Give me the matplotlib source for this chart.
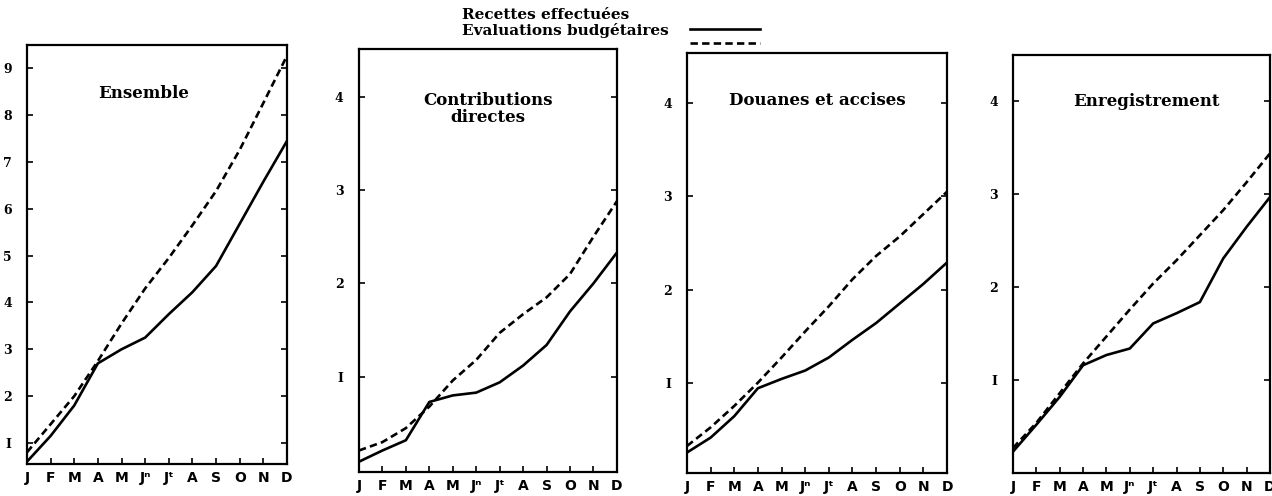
import matplotlib
matplotlib.use("Agg")
import matplotlib.pyplot as plt
from matplotlib.lines import Line2D

months = ["J", "F", "M", "A", "M", "J\u207f", "J\u1d57",
          "A", "S", "O", "N", "D"]

titles = ["Ensemble", "Contributions\ndirectes",
          "Douanes et accises", "Enregistrement"]

# recettes effectuees (solid)
ens_real = [0.6, 1.15, 1.8, 2.7, 3.0, 3.25, 3.75, 4.22, 4.78, 5.68, 6.58, 7.45]
cd_real = [0.09, 0.21, 0.32, 0.73, 0.80, 0.83, 0.94, 1.12, 1.34, 1.70, 2.0, 2.33]
dou_real = [0.25, 0.41, 0.64, 0.94, 1.04, 1.13, 1.27, 1.46, 1.64, 1.85, 2.06, 2.29]
enr_real = [0.23, 0.52, 0.82, 1.16, 1.27, 1.34, 1.61, 1.72, 1.84, 2.31, 2.65, 2.97]

# evaluations budgetaires (dashed)
ens_eval = [0.8, 1.4, 2.0, 2.75, 3.55, 4.3, 4.95, 5.65, 6.38, 7.26, 8.26, 9.27]
cd_eval = [0.21, 0.30, 0.45, 0.68, 0.96, 1.18, 1.47, 1.67, 1.85, 2.10, 2.50, 2.88]
dou_eval = [0.32, 0.52, 0.75, 1.0, 1.27, 1.55, 1.82, 2.11, 2.36, 2.57, 2.81, 3.05]
enr_eval = [0.27, 0.54, 0.86, 1.18, 1.47, 1.76, 2.04, 2.29, 2.56, 2.83, 3.13, 3.44]

real = [ens_real, cd_real, dou_real, enr_real]
evals = [ens_eval, cd_eval, dou_eval, enr_eval]

yticks = [list(range(1, 10)), [1, 2, 3, 4], [1, 2, 3, 4], [1, 2, 3, 4]]
ylims = [(0.55, 9.5), (-0.02, 4.51), (0.03, 4.54), (0.0, 4.5)]

# axes boxes in figure fractions
boxes = [[0.0212, 0.0645, 0.2044, 0.8448],
         [0.2822, 0.0484, 0.2028, 0.8528],
         [0.5401, 0.0464, 0.2044, 0.8468],
         [0.7964, 0.0464, 0.2020, 0.8427]]
title_pos = [(0.45, 0.885), (0.5, 0.858), (0.5, 0.888), (0.52, 0.888)]

dash = (0, (2.8, 1.6))

fig = plt.figure(figsize=(12.72, 4.96), dpi=100)

x = list(range(12))
for i in range(4):
    ax = fig.add_axes(boxes[i])
    ax.plot(x, real[i], color="black", lw=1.9, solid_joinstyle="round")
    ax.plot(x, evals[i], color="black", lw=1.9, linestyle=dash)
    ax.set_xlim(0, 11)
    ax.set_ylim(*ylims[i])
    ax.set_xticks(x)
    ax.set_xticklabels(months, fontfamily="DejaVu Sans", fontweight="bold",
                       fontsize=10)
    ax.set_yticks(yticks[i])
    ax.set_yticklabels(["I"] + [str(v) for v in yticks[i][1:]],
                       fontfamily="DejaVu Serif", fontweight="bold", fontsize=9)
    ax.tick_params(axis="both", direction="in", length=4, width=1.2,
                   right=True, top=False)
    ax.tick_params(axis="x", pad=5)
    ax.tick_params(axis="y", pad=11)
    for s in ax.spines.values():
        s.set_linewidth(1.6)
    ax.text(title_pos[i][0], title_pos[i][1], titles[i], transform=ax.transAxes,
            ha="center", va="center", fontfamily="DejaVu Serif",
            fontweight="bold", fontsize=12, linespacing=1.0)

# legend at the top
fig.text(462 / 1272, 1 - 15 / 496, "Recettes effectuées", ha="left",
         va="center", fontfamily="DejaVu Serif", fontweight="bold", fontsize=11)
fig.text(462 / 1272, 1 - 31 / 496, "Evaluations budgétaires", ha="left",
         va="center", fontfamily="DejaVu Serif", fontweight="bold", fontsize=11)
fig.add_artist(Line2D([690 / 1272, 760 / 1272], [1 - 29 / 496, 1 - 29 / 496],
                      color="black", lw=1.9))
fig.add_artist(Line2D([690 / 1272, 760 / 1272], [1 - 43 / 496, 1 - 43 / 496],
                      color="black", lw=1.9, linestyle=dash))

fig.savefig("out.png", dpi=100)
